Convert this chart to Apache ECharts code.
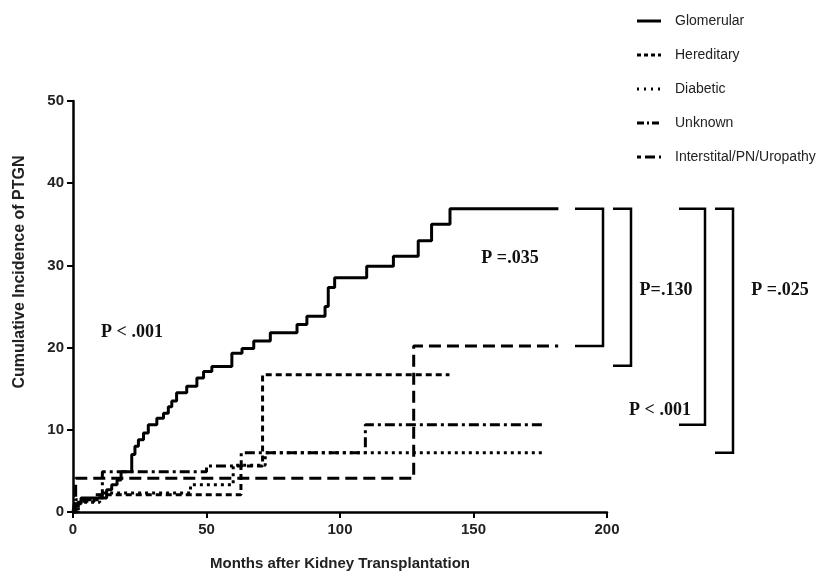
<!DOCTYPE html>
<html>
<head>
<meta charset="utf-8">
<script src="https://cdn.jsdelivr.net/npm/echarts@6/dist/echarts.min.js"></script>
<style>
  html, body { margin: 0; background: #fff; }
  #chart { width: 824px; height: 576px; }
</style>
</head>
<body>
<div id="chart"></div>
<script>
// cumulative incidence curves (months, %)
const glomMonths = [0, 0.5, 3, 12.6, 14.5, 16.5, 18, 22, 23.2, 24.5, 26.4, 28.2, 31.4, 33.9, 35.7, 37, 38.8, 42.6, 46.4, 48.9, 52, 59.5, 63.3, 67.7, 73.9, 83.9, 87.6, 94.4, 95.6, 98, 110, 120, 129.3, 134.3, 141.2, 181.8]
const glomValues = [0, 1.0, 1.7, 2.7, 3.3, 3.9, 4.9, 7.0, 8.0, 8.8, 9.6, 10.6, 11.4, 12.0, 12.8, 13.5, 14.5, 15.3, 16.3, 17.1, 17.7, 19.3, 19.9, 20.8, 21.8, 22.8, 23.8, 25.0, 27.3, 28.5, 29.9, 31.1, 33.0, 35.0, 36.9, 36.9]

const heredMonths = [0, 2, 8, 62.9, 71, 141]
const heredValues = [0, 1.3, 2.1, 5.6, 16.7, 16.7]

const diabMonths = [0, 2, 10, 44, 60, 72, 177]
const diabValues = [0, 1.2, 2.3, 3.3, 5.7, 7.2, 7.2]

const unknMonths = [0, 1, 11, 50, 63, 109.5, 177]
const unknValues = [0, 1.5, 4.9, 5.6, 7.2, 10.6, 10.6]

const interMonths = [0, 1, 127.6, 181.7]
const interValues = [0, 4.1, 20.2, 20.2]

const seriesNames = ['Glomerular', 'Hereditary', 'Diabetic', 'Unknown', 'Interstital/PN/Uropathy']
const xTicks = [0, 50, 100, 150, 200]
const yTicks = [0, 10, 20, 30, 40, 50]

// pairwise comparisons against Glomerular
const bracketTop = 36.9
const bracketBottoms = [20.2, 17.8, 10.6, 7.2]
const pLabels = ['P =.035', 'P=.130', 'P < .001', 'P =.025']

const lineDashes = ['solid', [6, 4], [3, 4], [10, 4, 3, 4], [12, 6]]
const legendDashes = [null, [4, 3], [2, 5], [7, 3, 2, 3], [4, 4, 10, 4]]

const zip = (xs, ys) => xs.map((x, i) => [x, ys[i]])

const chart = echarts.init(document.getElementById('chart'))

const lineSeries = (idx, months, values, z) => ({
  name: seriesNames[idx],
  type: 'line',
  step: 'end',
  symbol: 'none',
  z,
  data: zip(months, values),
  lineStyle: {color: '#000', width: 3, type: lineDashes[idx], cap: 'butt'},
})

chart.setOption({
  animation: false,
  backgroundColor: '#fff',
  grid: {left: 73, right: 217, top: 101, bottom: 64},
  xAxis: {
    type: 'value',
    min: xTicks[0],
    max: xTicks[xTicks.length - 1],
    interval: 50,
    name: 'Months after Kidney Transplantation',
    nameLocation: 'middle',
    nameGap: 44,
    nameTextStyle: {fontFamily: 'Liberation Sans', fontWeight: 'bold', fontSize: 15, color: '#222'},
    axisLine: {lineStyle: {color: '#000', width: 2.5}},
    axisTick: {length: 6, lineStyle: {color: '#000', width: 2}},
    axisLabel: {fontFamily: 'Liberation Sans', fontWeight: 'bold', fontSize: 15, color: '#222', margin: 10},
    splitLine: {show: false},
  },
  yAxis: {
    type: 'value',
    min: yTicks[0],
    max: yTicks[yTicks.length - 1],
    interval: 10,
    axisLine: {show: true, lineStyle: {color: '#000', width: 2.5}},
    axisTick: {show: true, length: 6, lineStyle: {color: '#000', width: 2}},
    axisLabel: {fontFamily: 'Liberation Sans', fontWeight: 'bold', fontSize: 15, color: '#222', margin: 9},
    splitLine: {show: false},
  },
  series: [
    lineSeries(0, glomMonths, glomValues, 5),
    lineSeries(1, heredMonths, heredValues, 4),
    lineSeries(2, diabMonths, diabValues, 3),
    lineSeries(3, unknMonths, unknValues, 3),
    lineSeries(4, interMonths, interValues, 2),
  ],
})

// brackets and p-values
const yPx = v => chart.convertToPixel({gridIndex: 0}, [0, v])[1]
const bracketX = [[575, 603], [613, 631], [679, 705], [715, 733]]
const labelPos = [[510, 258], [666, 290], [660, 410], [780, 290]]

const pText = (text, x, y) => ({
  type: 'text',
  x, y,
  style: {text, fontFamily: 'Liberation Serif', fontWeight: 'bold', fontSize: 18, fill: '#111', align: 'center', verticalAlign: 'middle'},
})

const graphics = []
bracketBottoms.forEach((b, i) => {
  const [x0, x1] = bracketX[i]
  const yt = yPx(bracketTop)
  const yb = yPx(b)
  graphics.push({
    type: 'polyline',
    shape: {points: [[x0, yt], [x1, yt], [x1, yb], [x0, yb]]},
    style: {stroke: '#000', lineWidth: 2.5, fill: null},
  })
  graphics.push(pText(pLabels[i], labelPos[i][0], labelPos[i][1]))
})
graphics.push(pText('P < .001', 132, 332))

// legend with line-style keys
seriesNames.forEach((name, i) => {
  const y = 21 + i * 34
  graphics.push({
    type: 'line',
    shape: {x1: 637, y1: y, x2: 661, y2: y},
    style: {stroke: '#000', lineWidth: 3, lineDash: legendDashes[i]},
  })
  graphics.push({
    type: 'text',
    x: 675, y,
    style: {text: name, fontFamily: 'Liberation Sans', fontSize: 14, fill: '#222', verticalAlign: 'middle'},
  })
})

graphics.push({
  type: 'text',
  x: 20, y: 272,
  rotation: Math.PI / 2,
  style: {text: 'Cumulative Incidence of PTGN', fontFamily: 'Liberation Sans', fontWeight: 'bold', fontSize: 16, fill: '#222', align: 'center', verticalAlign: 'middle'},
})

chart.setOption({graphic: graphics})
</script>
</body>
</html>
